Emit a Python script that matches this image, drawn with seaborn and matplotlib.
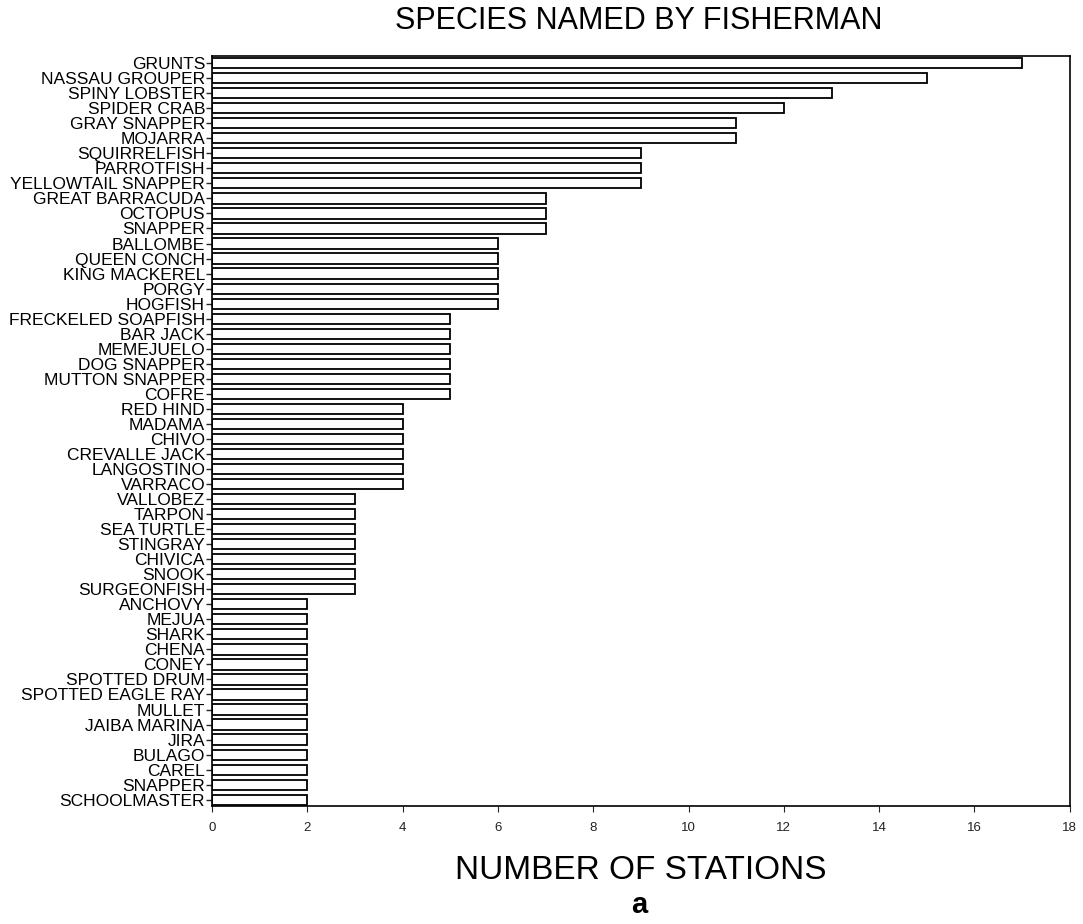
import pandas as pd
import matplotlib.pyplot as plt
import seaborn as sns

# species as printed top to bottom (SNAPPER appears twice in the original)
species = ['GRUNTS', 'NASSAU GROUPER', 'SPINY LOBSTER', 'SPIDER CRAB', 'GRAY SNAPPER',
           'MOJARRA', 'SQUIRRELFISH', 'PARROTFISH', 'YELLOWTAIL SNAPPER', 'GREAT BARRACUDA',
           'OCTOPUS', 'SNAPPER', 'BALLOMBE', 'QUEEN CONCH', 'KING MACKEREL',
           'PORGY', 'HOGFISH', 'FRECKELED SOAPFISH', 'BAR JACK', 'MEMEJUELO',
           'DOG SNAPPER', 'MUTTON SNAPPER', 'COFRE', 'RED HIND', 'MADAMA',
           'CHIVO', 'CREVALLE JACK', 'LANGOSTINO', 'VARRACO', 'VALLOBEZ',
           'TARPON', 'SEA TURTLE', 'STINGRAY', 'CHIVICA', 'SNOOK',
           'SURGEONFISH', 'ANCHOVY', 'MEJUA', 'SHARK', 'CHENA',
           'CONEY', 'SPOTTED DRUM', 'SPOTTED EAGLE RAY', 'MULLET', 'JAIBA MARINA',
           'JIRA', 'BULAGO', 'CAREL', 'SNAPPER', 'SCHOOLMASTER']
stations = [17, 15, 13, 12, 11,
            11, 9, 9, 9, 7,
            7, 7, 6, 6, 6,
            6, 6, 5, 5, 5,
            5, 5, 5, 4, 4,
            4, 4, 4, 4, 3,
            3, 3, 3, 3, 3,
            3, 2, 2, 2, 2,
            2, 2, 2, 2, 2,
            2, 2, 2, 2, 2]
x_ticks = list(range(0, 20, 2))

# unique keys so the duplicate name keeps its own bar
keys = [f'{i:02d}' for i in range(len(species))]
df = pd.DataFrame({'key': keys, 'species': species, 'stations': stations})

sns.set_style('white')
plt.rcParams['font.family'] = ['Liberation Sans', 'DejaVu Sans']

fig = plt.figure(figsize=(10.83, 9.24), dpi=100)
ax = fig.add_axes([0.1958, 0.128, 0.792, 0.811])

sns.barplot(data=df, x='stations', y='key', orient='h', order=keys,
            color='white', edgecolor='black', linewidth=1.3, width=0.68,
            saturation=1, ax=ax)

ax.set_yticks(range(len(species)))
ax.set_yticklabels(species, fontsize=12.5, color='black')
ax.set_ylim(len(species) - 0.6, -0.45)
ax.set_xlim(0, 18)
ax.set_xticks(x_ticks)
ax.set_xticklabels([str(t) for t in x_ticks], fontsize=9.5, color='#222222')
ax.tick_params(axis='y', length=4, width=1, pad=1, left=True, direction='out')
ax.tick_params(axis='x', length=4, width=0.8, pad=8, bottom=True, direction='out')
for s in ax.spines.values():
    s.set_color('black')
    s.set_linewidth(1.2)

ax.set_ylabel('')
ax.set_xlabel('NUMBER OF STATIONS', fontsize=24, labelpad=15, color='black')
fig.text(0.59, 0.977, 'SPECIES NAMED BY FISHERMAN', ha='center', va='center',
         fontsize=22, color='black')
fig.text(0.59, 0.005, 'a', ha='center', va='bottom', fontsize=21,
         fontweight='bold', color='black')

fig.savefig('out.png', dpi=100)
